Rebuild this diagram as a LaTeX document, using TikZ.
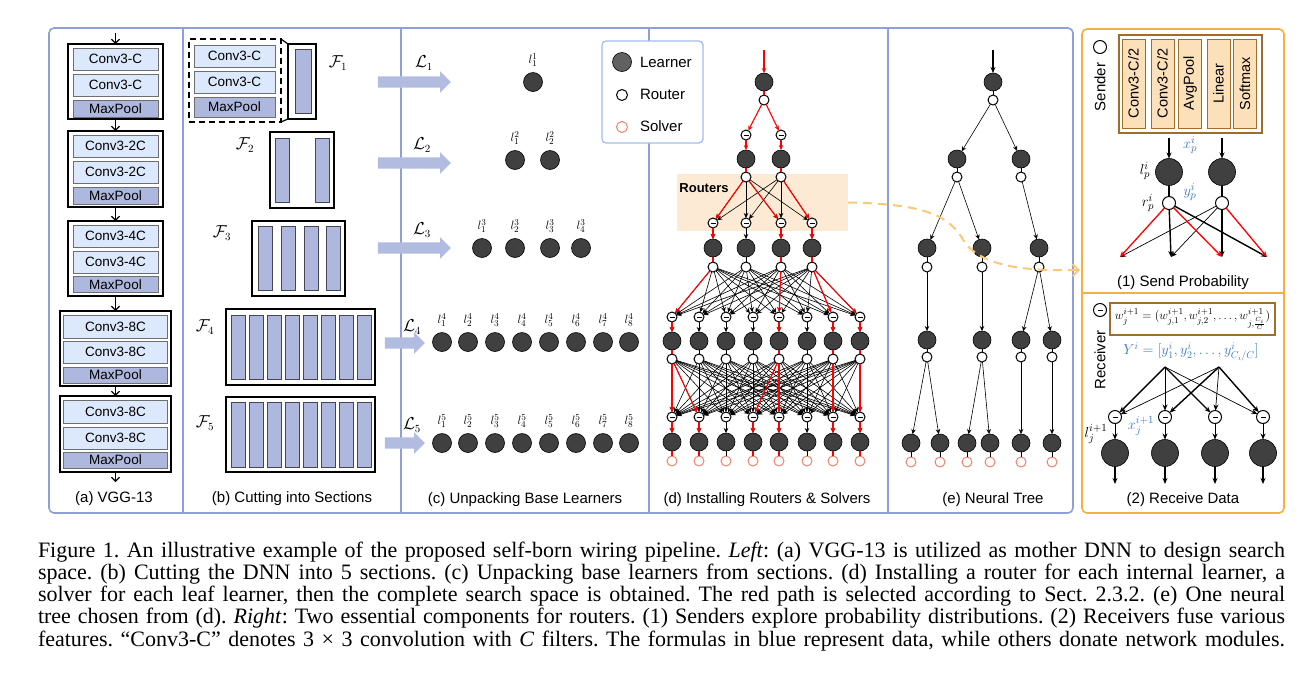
\documentclass[tikz,border=0pt]{standalone}
\usepackage[no-math]{fontspec}
\setmainfont{Liberation Serif}
\newfontfamily\arial{Liberation Sans}
\usetikzlibrary{arrows.meta,shapes.arrows,calc}
\definecolor{convfill}{RGB}{220,232,252}
\definecolor{convdraw}{RGB}{110,110,110}
\definecolor{poolfill}{RGB}{174,184,222}
\definecolor{bardraw}{RGB}{70,70,80}
\definecolor{arrfill}{RGB}{178,188,224}
\definecolor{lrn}{RGB}{64,64,64}
\definecolor{solv}{RGB}{240,130,110}
\definecolor{panelblue}{RGB}{143,160,214}
\definecolor{legblue}{RGB}{160,190,235}
\definecolor{panelorange}{RGB}{245,176,65}
\definecolor{rbox}{RGB}{252,234,212}
\definecolor{dashc}{RGB}{250,200,120}
\definecolor{sfill}{RGB}{252,224,186}
\definecolor{sdraw}{RGB}{160,110,40}
\definecolor{mblue}{RGB}{60,120,190}
\newcommand\afont[1]{\arial\fontsize{#1}{#1}\selectfont}
\tikzset{
 conv/.style={draw=convdraw, fill=convfill, line width=0.8pt, font=\afont{13.5}},
 pool/.style={conv, fill=poolfill},
 blk/.style={draw=black, line width=1.6pt},
 fbar/.style={draw=bardraw, fill=poolfill, line width=0.8pt, minimum width=14pt},
 learner/.style={circle, draw=black, line width=0.6pt, fill=lrn, minimum size=18pt},
 router/.style={circle, draw=black, fill=white, line width=1pt, minimum size=10pt},
 recv/.style={router, path picture={\draw[line width=1pt] ([xshift=-2.5pt,yshift=-0.5pt]path picture bounding box.center) -- ([xshift=2.5pt,yshift=-0.5pt]path picture bounding box.center);}},
 solver/.style={circle, draw=solv, fill=white, line width=1pt, minimum size=10pt},
 conn/.style={-{Stealth[length=5pt,width=4.5pt]}, line width=0.6pt},
 rconn/.style={conn, red, line width=1.1pt},
 tline/.style={line width=0.6pt},
 rline/.style={red, line width=1.1pt},
 tiny/.style={font=\fontsize{13}{13}\selectfont},
 slab/.style={font=\fontsize{15}{15}\selectfont},
 mlab/.style={font=\fontsize{16}{16}\selectfont},
 pcap/.style={font=\afont{15}},
 bigarr/.style={single arrow, fill=arrfill, minimum width=21pt, single arrow head extend=5pt, inner sep=5.5pt},
 varr/.style={-{Straight Barb[length=4pt,width=8pt]}, line width=1.1pt},
 thk/.style={-{Stealth[length=6pt,width=5pt]}, line width=1.4pt},
 thn/.style={-{Stealth[length=6pt,width=5pt]}, line width=0.7pt},
 capline/.style={anchor=base west, font=\fontsize{22}{22}\selectfont\frenchspacing},
}
\begin{document}
\begin{tikzpicture}[x=1pt,y=-1pt, every node/.style={inner sep=0pt, outer sep=0pt}]
\useasboundingbox (0,0) rectangle (1310,681);
% ---------- panels ----------
\draw[panelblue, line width=1.6pt, rounded corners=5pt] (49,28) rectangle (1073,513);
\foreach \x in {183,401,649,888} \draw[panelblue, line width=1.2pt] (\x,28) -- (\x,513);
\draw[panelorange, line width=1.6pt, rounded corners=5pt] (1082,29) rectangle (1284,513);
\draw[panelorange, line width=1.4pt] (1082,293) -- (1284,293);
% ---------- (a) VGG-13 ----------
\node[blk, minimum width=95pt, minimum height=75pt] (A1) at (115.5,81.5) {};
\node[conv, minimum width=85pt, minimum height=22pt] (A1a) at (115.5,59) {Conv3-C};
\node[conv, minimum width=85pt, minimum height=22pt] (A1b) at (115.5,85) {Conv3-C};
\node[pool, minimum width=85pt, minimum height=17pt] (A1c) at (115.5,108.5) {MaxPool};
\node[blk, minimum width=95pt, minimum height=76pt] (A2) at (115.5,169) {};
\node[conv, minimum width=85pt, minimum height=22pt] (A2a) at (115.5,146) {Conv3-2C};
\node[conv, minimum width=85pt, minimum height=22pt] (A2b) at (115.5,172) {Conv3-2C};
\node[pool, minimum width=85pt, minimum height=17pt] (A2c) at (115.5,195.5) {MaxPool};
\node[blk, minimum width=95pt, minimum height=75pt] (A3) at (115.5,258.5) {};
\node[conv, minimum width=85pt, minimum height=22pt] (A3a) at (115.5,236) {Conv3-4C};
\node[conv, minimum width=85pt, minimum height=22pt] (A3b) at (115.5,262) {Conv3-4C};
\node[pool, minimum width=85pt, minimum height=16pt] (A3c) at (115.5,284.5) {MaxPool};
\node[blk, minimum width=111pt, minimum height=75pt] (A4) at (115.5,348.5) {};
\node[conv, minimum width=104pt, minimum height=23pt] (A4a) at (115.5,326.5) {Conv3-8C};
\node[conv, minimum width=104pt, minimum height=22pt] (A4b) at (115.5,352) {Conv3-8C};
\node[pool, minimum width=104pt, minimum height=16pt] (A4c) at (115.5,375) {MaxPool};
\node[blk, minimum width=111pt, minimum height=76pt] (A5) at (115.5,434) {};
\node[conv, minimum width=104pt, minimum height=23pt] (A5a) at (115.5,411.5) {Conv3-8C};
\node[conv, minimum width=104pt, minimum height=22pt] (A5b) at (115.5,438) {Conv3-8C};
\node[pool, minimum width=104pt, minimum height=16pt] (A5c) at (115.5,460) {MaxPool};
\coordinate (a0) at (115.5,33);
\coordinate (a6) at (115.5,482);
\draw[varr] (a0) -- (A1);
\draw[varr] (A1) -- (A2);
\draw[varr] (A2) -- (A3);
\draw[varr] (A3) -- (A4);
\draw[varr] (A4) -- (A5);
\draw[varr] (A5) -- (a6);
\node[pcap] (capa) at (114,499) {(a) VGG-13};
% ---------- (b) sections ----------
\node[draw=black, dash pattern=on 6pt off 4pt, line width=1.4pt, minimum width=92pt, minimum height=83pt] (F1box) at (235,80.5) {};
\node[conv, minimum width=81pt, minimum height=22pt] (F1a) at (234.5,56) {Conv3-C};
\node[conv, minimum width=81pt, minimum height=22pt] (F1b) at (234.5,82) {Conv3-C};
\node[pool, minimum width=81pt, minimum height=20pt] (F1c) at (234.5,107) {MaxPool};
\node[blk, minimum width=28pt, minimum height=75pt] (F1s) at (302,81.5) {};
\node[fbar, minimum width=16pt, minimum height=64pt] (F1sb) at (303,81) {};
\draw[line width=1.2pt] (F1box.north east) -- (F1s.north west);
\draw[line width=1.2pt] (F1box.south east) -- (F1s.south west);
\node[mlab] (F1l) at (338,63) {$\mathcal{F}_1$};
\node[blk, minimum width=64pt, minimum height=76pt] (F2) at (302,170) {};
\foreach \x [count=\i] in {282,322} \node[fbar, minimum height=64pt] (F2b\i) at (\x,170) {};
\node[mlab] (F2l) at (245,145) {$\mathcal{F}_2$};
\node[blk, minimum width=93pt, minimum height=75pt] (F3) at (298.5,258.5) {};
\foreach \x [count=\i] in {265,288,311,333} \node[fbar, minimum height=64pt] (F3b\i) at (\x,258) {};
\node[mlab] (F3l) at (222,233) {$\mathcal{F}_3$};
\node[blk, minimum width=149pt, minimum height=76pt] (F4) at (300.5,347) {};
\foreach \i in {0,...,7} \node[fbar, minimum height=64pt] (F4b\i) at (238+18*\i,347) {};
\node[mlab] (F4l) at (205,327) {$\mathcal{F}_4$};
\node[blk, minimum width=149pt, minimum height=75pt] (F5) at (300.5,434.5) {};
\foreach \i in {0,...,7} \node[fbar, minimum height=65pt] (F5b\i) at (238+18*\i,434.5) {};
\node[mlab] (F5l) at (205,423) {$\mathcal{F}_5$};
\node[pcap] (capb) at (292,499) {(b) Cutting into Sections};
% ---------- (c) base learners ----------
\node[bigarr, minimum height=73pt] (ar1) at (411.5,82) {};
\node[bigarr, minimum height=73pt] (ar2) at (411.5,163) {};
\node[bigarr, minimum height=73pt] (ar3) at (411.5,248) {};
\node[bigarr, minimum height=40pt] (ar4) at (402,343) {};
\node[bigarr, minimum height=40pt] (ar5) at (402,443) {};
\node[mlab] (L1) at (424,63) {$\mathcal{L}_1$};
\node[mlab] (L2) at (422,145) {$\mathcal{L}_2$};
\node[mlab] (L3) at (422,230) {$\mathcal{L}_3$};
\node[mlab] (L4) at (412,327) {$\mathcal{L}_4$};
\node[mlab] (L5) at (412,425) {$\mathcal{L}_5$};
\node[learner, minimum size=19pt] (c1n1) at (533,82) {};
\node[tiny] (c1t1) at (533,60) {$l^1_1$};
\foreach \x [count=\i] in {515,550} {\node[learner, minimum size=19pt] (c2n\i) at (\x,160) {}; \node[tiny] (c2t\i) at (\x,138) {$l^2_{\i}$};}
\foreach \x [count=\i] in {482,515,550,581} {\node[learner, minimum size=19pt] (c3n\i) at (\x,248) {}; \node[tiny] (c3t\i) at (\x,226) {$l^3_{\i}$};}
\foreach \x [count=\i] in {442,468,495,522,549,576,603,629} {
 \node[learner, minimum size=19pt] (c4n\i) at (\x,342) {}; \node[tiny] (c4t\i) at (\x,320) {$l^4_{\i}$};
 \node[learner, minimum size=19pt] (c5n\i) at (\x,443) {}; \node[tiny] (c5t\i) at (\x,421) {$l^5_{\i}$};}
\node[pcap] (capc) at (525,500) {(c) Unpacking Base Learners};
% legend
\node[draw=legblue, line width=1.3pt, rounded corners=4pt, fill=white, minimum width=101pt, minimum height=102pt] (leg) at (652.5,92) {};
\node[learner, fill=black!62, minimum size=19pt] (legl) at (622,62) {};
\node[router, minimum size=11pt] (legr) at (622,95) {};
\node[solver, minimum size=11pt] (legs) at (622,127) {};
\node[pcap, anchor=west] (legtl) at (640,62) {Learner};
\node[pcap, anchor=west] (legtr) at (640,94) {Router};
\node[pcap, anchor=west] (legts) at (640,126) {Solver};
% ---------- (d) routers and solvers ----------
\node[fill=rbox, minimum width=171pt, minimum height=57pt] (rbx) at (762.5,202.5) {};
\node[font=\arial\bfseries\fontsize{13}{13}\selectfont] (rbxt) at (704,188) {Routers};
\coordinate (d0) at (764,50);
\node[learner] (d1l) at (764,82) {};
\node[router] (d1r) at (764,100) {};
\draw[rconn] (d0) -- (d1l);
\draw[rline] (d1l) -- (d1r);
\foreach \x [count=\i] in {746,781} {
 \node[recv] (d2q\i) at (\x,135) {}; \node[learner] (d2l\i) at (\x,159) {}; \node[router] (d2r\i) at (\x,177) {};}
\foreach \x [count=\i] in {713,746,781,812} {
 \node[recv] (d3q\i) at (\x,223) {}; \node[learner] (d3l\i) at (\x,248) {}; \node[router] (d3r\i) at (\x,267) {};}
\foreach \x [count=\i] in {672,699,726,753,779,807,833,860} {
 \node[recv] (d4q\i) at (\x,317) {}; \node[learner] (d4l\i) at (\x,341) {}; \node[router] (d4r\i) at (\x,359) {};
 \node[recv] (d5q\i) at (\x,417) {}; \node[learner] (d5l\i) at (\x,442) {}; \node[solver] (d5s\i) at (\x,461) {};}
% black connectors
\foreach \i in {1,2} \foreach \j in {1,...,4} \draw[conn] (d2r\i) -- (d3q\j);
\foreach \i in {1,...,4} \foreach \j in {1,...,8} \draw[conn] (d3r\i) -- (d4q\j);
\foreach \i in {1,...,8} \foreach \j in {1,...,8} \draw[conn] (d4r\i) -- (d5q\j);
\foreach \i in {1,...,4} {\draw[conn] (d3q\i) -- (d3l\i); \draw[tline] (d3l\i) -- (d3r\i);}
\foreach \i in {1,...,8} {\draw[conn] (d4q\i) -- (d4l\i); \draw[tline] (d4l\i) -- (d4r\i);
 \draw[conn] (d5q\i) -- (d5l\i); \draw[tline] (d5l\i) -- (d5s\i);}
% red path
\foreach \i in {1,2} {\draw[rconn] (d1r) -- (d2q\i); \draw[rconn] (d2q\i) -- (d2l\i); \draw[rline] (d2l\i) -- (d2r\i);}
\draw[rconn] (d2r1) -- (d3q1); \draw[rconn] (d2r1) -- (d3q3); \draw[rconn] (d2r2) -- (d3q4);
\foreach \i in {1,3,4} {\draw[rconn] (d3q\i) -- (d3l\i); \draw[rline] (d3l\i) -- (d3r\i);}
\draw[rconn] (d3r1) -- (d4q1); \draw[rconn] (d3r3) -- (d4q5); \draw[rconn] (d3r4) -- (d4q7); \draw[rconn] (d3r4) -- (d4q8);
\foreach \i in {1,5,7,8} {\draw[rconn] (d4q\i) -- (d4l\i); \draw[rline] (d4l\i) -- (d4r\i);}
\draw[rconn] (d4r1) -- (d5q1); \draw[rconn] (d4r1) -- (d5q2); \draw[rconn] (d4r5) -- (d5q4);
\draw[rconn] (d4r5) -- (d5q5); \draw[rconn] (d4r7) -- (d5q7); \draw[rconn] (d4r8) -- (d5q8);
\foreach \i in {1,2,4,5,7,8} {\draw[rconn] (d5q\i) -- (d5l\i); \draw[rline] (d5l\i) -- (d5s\i);}
\node[pcap] (capd) at (767,500) {(d) Installing Routers \& Solvers};
% ---------- (e) neural tree ----------
\coordinate (e0) at (993,50);
\node[learner] (e1) at (993,82) {}; \node[router] (e1r) at (993,100) {};
\foreach \n/\x/\y/\ry in {e2a/957/159/177, e2b/1021/159/177, e3a/927/248/267, e3b/982/248/267, e3c/1039/248/267,
  e4a/927/340/357, e4b/982/340/357, e4c/1021/340/357, e4d/1052/340/357} {
 \node[learner] (\n) at (\x,\y) {}; \node[router] (\n r) at (\x,\ry) {}; \draw[tline] (\n) -- (\n r);}
\foreach \n/\x in {e5a/911, e5b/940, e5c/967, e5d/990, e5e/1021, e5f/1052} {
 \node[learner] (\n) at (\x,443) {}; \node[solver] (\n s) at (\x,462) {}; \draw[tline] (\n) -- (\n s);}
\draw[tline] (e1) -- (e1r);
\draw[thk] (e0) -- (e1);
\foreach \a/\b in {e1r/e2a, e1r/e2b, e2ar/e3a, e2ar/e3b, e2br/e3c, e3ar/e4a, e3br/e4b, e3cr/e4c, e3cr/e4d,
  e4ar/e5a, e4ar/e5b, e4br/e5c, e4br/e5d, e4cr/e5e, e4dr/e5f} \draw[conn] (\a) -- (\b);
\node[pcap] (cape) at (993,500) {(e) Neural Tree};
% ---------- (1) sender ----------
\node[router, minimum size=13pt] (sicon) at (1100,47) {};
\node[pcap, rotate=90] (stxt) at (1100,87) {Sender};
\node[draw=sdraw, line width=1.6pt, minimum width=143pt, minimum height=98pt] (sbox) at (1190.5,84) {};
\foreach \x/\t [count=\i] in {1133.5/{Conv3-C/2}, 1162.5/{Conv3-C/2}, 1190/AvgPool, 1218.5/Linear, 1245/Softmax}
 \node[draw=sdraw, fill=sfill, line width=1pt, minimum width=23pt, minimum height=89pt] (sb\i) at (\x,83.5) {\rotatebox{90}{\afont{14.5}\t}};
\foreach \x [count=\i] in {1169,1222} {
 \coordinate (sin\i) at (\x,138);
 \node[learner, minimum size=27pt] (sl\i) at (\x,172) {};
 \node[router, minimum size=13pt] (sr\i) at (\x,203) {};
 \draw[thk] (sin\i) -- (sl\i);
 \draw[line width=1.4pt] (sl\i) -- (sr\i);}
\foreach \x [count=\i] in {1120,1171,1222,1267} \coordinate (t\i) at (\x,257);
\draw[thk] (sr1) -- (t2); \draw[thk] (sr1) -- (t4);
\draw[thn] (sr2) -- (t1); \draw[thn] (sr2) -- (t2); \draw[thk] (sr2) -- (t3);
\draw[thk, red, line width=1.3pt] (sr1) -- (t1); \draw[thk, red, line width=1.3pt] (sr1) -- (t3); \draw[thk, red, line width=1.3pt] (sr2) -- (t4);
\node[slab, text=mblue] (xp) at (1190,145) {$x_p^i$};
\node[slab] (lp) at (1145,171) {$l_p^i$};
\node[slab, text=mblue] (yp) at (1190,192) {$y_p^i$};
\node[slab] (rp) at (1148,203) {$r_p^i$};
\node[pcap] (cap1) at (1183,283) {(1) Send Probability};
% ---------- (2) receiver ----------
\node[recv, minimum size=13pt] (ricon) at (1100,310) {};
\node[pcap, rotate=90] (rtxt) at (1100,360) {Receiver};
\node[draw=sdraw, line width=1.6pt, minimum width=165pt, minimum height=32pt, font=\fontsize{13}{13}\selectfont] (wbox) at (1192.5,319) {$w_j^{i+1}=(w_{j,1}^{i+1},w_{j,2}^{i+1},\ldots,w_{j,\frac{C_i}{C}}^{i+1})$};
\node[text=mblue, font=\fontsize{14.5}{14.5}\selectfont] (Yf) at (1191,352) {$Y^i=[y_1^i,y_2^i,\ldots,y_{C_i/C}^i]$};
\coordinate (s1) at (1165,367);
\coordinate (s2) at (1219,367);
\foreach \x [count=\i] in {1115,1165,1215,1263} {
 \node[recv, minimum size=13pt] (q\i) at (\x,417) {};
 \node[learner, minimum size=27pt] (ql\i) at (\x,453) {};
 \coordinate (qo\i) at (\x,484);
 \draw[thn] (q\i) -- (ql\i);
 \draw[thk] (ql\i) -- (qo\i);}
\draw[thk] (s1) -- (q1); \draw[thk] (s1) -- (q3); \draw[thk] (s2) -- (q2); \draw[thk] (s2) -- (q4);
\draw[thn] (s1) -- (q2); \draw[thn] (s1) -- (q4); \draw[thn] (s2) -- (q1); \draw[thn] (s2) -- (q3);
\node[slab, text=mblue] (xj) at (1141,426) {$x_j^{i+1}$};
\node[slab] (lj) at (1096,434) {$l_j^{i+1}$};
\node[pcap] (cap2) at (1183,500) {(2) Receive Data};
% ---------- dashed link ----------
\coordinate (sendin) at (1080,270);
\draw[dashc, line width=2pt, dash pattern=on 9pt off 6pt, -{Straight Barb[length=6pt,width=12pt]}]
 (rbx.east) .. controls (925,204) and (950,215) .. (965,243) .. controls (985,268) and (1030,271) .. (sendin);
% ---------- caption ----------
\node[capline] (cl1) at (38,557) {\makebox[1247pt][s]{Figure 1. An illustrative example of the proposed self-born wiring pipeline. \textit{Left}: (a) VGG-13 is utilized as mother DNN to design search}};
\node[capline] (cl2) at (38,579) {\makebox[1247pt][s]{space. (b) Cutting the DNN into 5 sections. (c) Unpacking base learners from sections. (d) Installing a router for each internal learner, a}};
\node[capline] (cl3) at (38,601) {\makebox[1247pt][s]{solver for each leaf learner, then the complete search space is obtained. The red path is selected according to Sect. 2.3.2. (e) One neural}};
\node[capline] (cl4) at (38,623) {\makebox[1247pt][s]{tree chosen from (d). \textit{Right}: Two essential components for routers. (1) Senders explore probability distributions. (2) Receivers fuse various}};
\node[capline] (cl5) at (38,646) {\makebox[1247pt][s]{features. “Conv3-C” denotes 3 × 3 convolution with \textit{C} filters. The formulas in blue represent data, while others donate network modules.}};
\end{tikzpicture}
\end{document}
